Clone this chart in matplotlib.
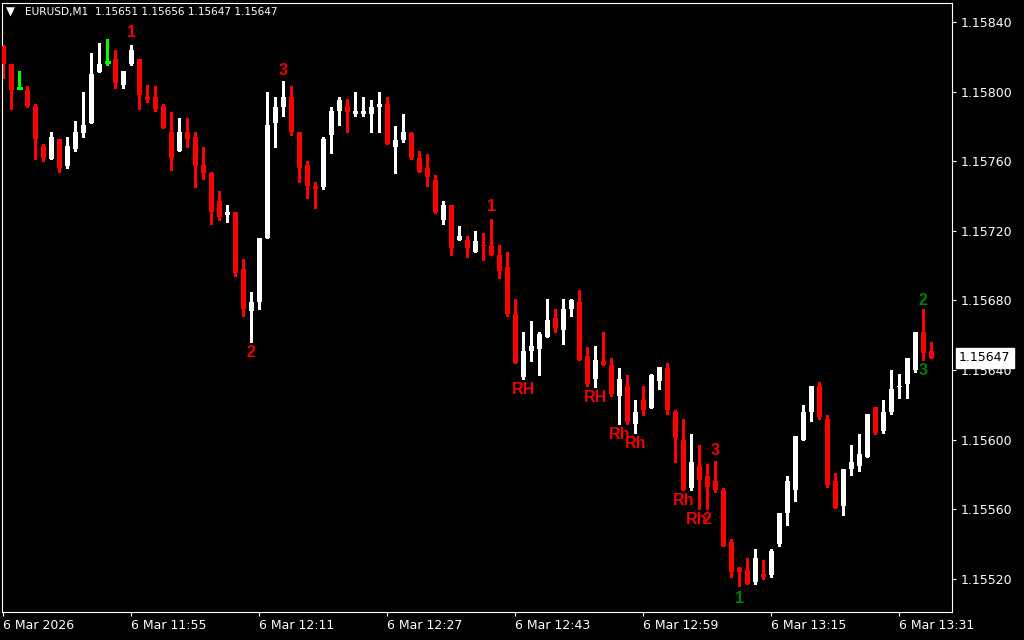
import matplotlib
matplotlib.use("Agg")
import matplotlib.pyplot as plt
import matplotlib.transforms as mtransforms
import numpy as np


BULL = "#FFFFFF"
BEAR = "#FF0000"
DOJI = "#00FF00"
SIG_RED = "#F00000"
SIG_GREEN = "#008000"

# EURUSD M1 candles, 6 Mar 2026 11:39 .. 13:35
opens = [
    1.15826, 1.15816, 1.15802, 1.15801, 1.15792, 1.15769, 1.15761, 1.15773, 1.15757, 1.15767,
    1.15776, 1.15782, 1.15811, 1.15817, 1.15819, 1.15804, 1.15816, 1.15819, 1.15797, 1.15797,
    1.15792, 1.15777, 1.15766, 1.15777, 1.15774, 1.15758, 1.15753, 1.15737, 1.15729, 1.15731,
    1.15698, 1.15674, 1.15679, 1.15716, 1.15782, 1.15791, 1.15797, 1.15777, 1.15758, 1.15746,
    1.15745, 1.15775, 1.15789, 1.15792, 1.15787, 1.15787, 1.15787, 1.15791, 1.15793, 1.15768,
    1.15772, 1.15776, 1.15762, 1.15756, 1.15749, 1.15726, 1.15735, 1.15715, 1.15715, 1.15708,
    1.15712, 1.15711, 1.15706, 1.15699, 1.15672, 1.15636, 1.15651, 1.15652, 1.15659, 1.15670,
    1.15663, 1.15675, 1.15679, 1.15648, 1.15635, 1.15645, 1.15643, 1.15625, 1.15631, 1.15609,
    1.15623, 1.15618, 1.15634, 1.15641, 1.15616, 1.15600, 1.15572, 1.15585, 1.15579, 1.15576,
    1.15571, 1.15541, 1.15526, 1.15525, 1.15518, 1.15523, 1.15522, 1.15540, 1.15558, 1.15571,
    1.15600, 1.15616, 1.15631, 1.15612, 1.15576, 1.15562, 1.15583, 1.15585, 1.15590, 1.15619,
    1.15605, 1.15616, 1.15630, 1.15632, 1.15640, 1.15662, 1.15651,
]
highs = [
    1.15827, 1.15816, 1.15812, 1.15803, 1.15793, 1.15770, 1.15777, 1.15773, 1.15774, 1.15783,
    1.15800, 1.15822, 1.15828, 1.15830, 1.15824, 1.15812, 1.15827, 1.15819, 1.15804, 1.15803,
    1.15793, 1.15788, 1.15785, 1.15785, 1.15777, 1.15768, 1.15754, 1.15743, 1.15735, 1.15731,
    1.15704, 1.15685, 1.15716, 1.15800, 1.15797, 1.15806, 1.15803, 1.15777, 1.15760, 1.15748,
    1.15774, 1.15791, 1.15797, 1.15796, 1.15800, 1.15797, 1.15795, 1.15800, 1.15797, 1.15780,
    1.15787, 1.15777, 1.15766, 1.15764, 1.15752, 1.15737, 1.15735, 1.15723, 1.15717, 1.15720,
    1.15719, 1.15727, 1.15712, 1.15708, 1.15681, 1.15662, 1.15668, 1.15662, 1.15681, 1.15675,
    1.15681, 1.15681, 1.15686, 1.15653, 1.15654, 1.15662, 1.15647, 1.15641, 1.15637, 1.15623,
    1.15631, 1.15638, 1.15642, 1.15644, 1.15617, 1.15612, 1.15603, 1.15597, 1.15586, 1.15588,
    1.15572, 1.15543, 1.15527, 1.15532, 1.15537, 1.15531, 1.15537, 1.15558, 1.15579, 1.15602,
    1.15620, 1.15631, 1.15633, 1.15614, 1.15581, 1.15583, 1.15597, 1.15603, 1.15615, 1.15619,
    1.15623, 1.15640, 1.15638, 1.15647, 1.15662, 1.15675, 1.15656,
]
lows = [
    1.15808, 1.15790, 1.15802, 1.15791, 1.15761, 1.15760, 1.15761, 1.15754, 1.15756, 1.15766,
    1.15774, 1.15782, 1.15811, 1.15815, 1.15802, 1.15802, 1.15815, 1.15790, 1.15794, 1.15789,
    1.15779, 1.15755, 1.15766, 1.15768, 1.15745, 1.15750, 1.15724, 1.15726, 1.15725, 1.15694,
    1.15671, 1.15656, 1.15675, 1.15716, 1.15768, 1.15786, 1.15775, 1.15748, 1.15739, 1.15733,
    1.15744, 1.15765, 1.15781, 1.15777, 1.15786, 1.15786, 1.15777, 1.15777, 1.15770, 1.15753,
    1.15771, 1.15761, 1.15754, 1.15746, 1.15730, 1.15724, 1.15706, 1.15715, 1.15705, 1.15708,
    1.15703, 1.15706, 1.15693, 1.15671, 1.15644, 1.15635, 1.15645, 1.15637, 1.15659, 1.15662,
    1.15655, 1.15671, 1.15646, 1.15631, 1.15630, 1.15643, 1.15625, 1.15609, 1.15609, 1.15604,
    1.15614, 1.15618, 1.15629, 1.15615, 1.15587, 1.15571, 1.15571, 1.15560, 1.15560, 1.15570,
    1.15539, 1.15521, 1.15516, 1.15517, 1.15517, 1.15520, 1.15521, 1.15539, 1.15551, 1.15565,
    1.15600, 1.15611, 1.15612, 1.15573, 1.15561, 1.15557, 1.15580, 1.15582, 1.15590, 1.15603,
    1.15604, 1.15615, 1.15624, 1.15624, 1.15639, 1.15646, 1.15647,
]
closes = [
    1.15816, 1.15801, 1.15802, 1.15792, 1.15773, 1.15762, 1.15774, 1.15756, 1.15769, 1.15777,
    1.15781, 1.15810, 1.15816, 1.15817, 1.15805, 1.15812, 1.15824, 1.15798, 1.15795, 1.15790,
    1.15779, 1.15762, 1.15777, 1.15773, 1.15757, 1.15753, 1.15731, 1.15728, 1.15731, 1.15696,
    1.15675, 1.15679, 1.15716, 1.15781, 1.15791, 1.15797, 1.15777, 1.15756, 1.15746, 1.15744,
    1.15773, 1.15789, 1.15795, 1.15788, 1.15789, 1.15789, 1.15791, 1.15793, 1.15770, 1.15772,
    1.15777, 1.15762, 1.15754, 1.15751, 1.15731, 1.15735, 1.15710, 1.15717, 1.15710, 1.15714,
    1.15711, 1.15706, 1.15697, 1.15672, 1.15644, 1.15651, 1.15654, 1.15661, 1.15669, 1.15664,
    1.15675, 1.15680, 1.15646, 1.15632, 1.15646, 1.15643, 1.15626, 1.15635, 1.15610, 1.15616,
    1.15617, 1.15637, 1.15642, 1.15617, 1.15601, 1.15571, 1.15587, 1.15577, 1.15573, 1.15571,
    1.15539, 1.15524, 1.15524, 1.15517, 1.15532, 1.15521, 1.15536, 1.15558, 1.15576, 1.15602,
    1.15616, 1.15631, 1.15613, 1.15574, 1.15561, 1.15583, 1.15587, 1.15592, 1.15615, 1.15604,
    1.15616, 1.15629, 1.15631, 1.15647, 1.15662, 1.15650, 1.15647,
]

# time axis labels (one every 16 bars)
time_tick_bars = [0, 16, 32, 48, 64, 80, 96, 112]
time_tick_labels = [
    "6 Mar 2026", "6 Mar 11:55", "6 Mar 12:11", "6 Mar 12:27",
    "6 Mar 12:43", "6 Mar 12:59", "6 Mar 13:15", "6 Mar 13:31",
]
price_ticks = [1.15520, 1.15560, 1.15600, 1.15640, 1.15680, 1.15720, 1.15760, 1.15800, 1.15840]

# indicator labels: text, bar index, price, colour
signal_texts = ["1", "3", "2", "1", "RH", "RH", "Rh", "Rh", "3", "Rh", "Rh", "2", "1", "2", "3"]
signal_bars = [16, 35, 31, 61, 65, 74, 77, 79, 89, 85, 86.7, 88, 92, 115, 115]
signal_prices = [
    1.15834, 1.15812, 1.15650, 1.15734, 1.15629, 1.15624, 1.15603, 1.15598,
    1.15594, 1.15565, 1.15554, 1.15554, 1.15509, 1.15680, 1.15640,
]
signal_colors = [SIG_RED] * 12 + [SIG_GREEN] * 3

last_price = 1.15647
header = "EURUSD,M1  1.15651 1.15656 1.15647 1.15647"


def main() -> None:
    W, H = 1024, 640
    fig = plt.figure(figsize=(W / 100, H / 100), dpi=100, facecolor="black")
    ax = fig.add_axes([2 / W, 28 / H, 950 / W, 609 / H], facecolor="black")

    o = np.array(opens)
    h = np.array(highs)
    l = np.array(lows)
    c = np.array(closes)
    x = np.arange(len(o))

    colors = np.where(c > o, BULL, np.where(c < o, BEAR, DOJI))

    ax.vlines(x, l, h, colors=colors, linewidth=0.75, antialiased=False, zorder=2)

    body = np.abs(c - o)
    has_body = body > 0
    ax.bar(
        x[has_body],
        body[has_body],
        bottom=np.minimum(o, c)[has_body],
        width=0.62,
        color=colors[has_body],
        linewidth=0,
        antialiased=False,
        zorder=3,
    )
    doji = ~has_body
    ax.hlines(o[doji], x[doji] - 0.31, x[doji] + 0.31, colors=DOJI, linewidth=0.75,
              antialiased=False, zorder=3)

    for txt, bx, py, col in zip(signal_texts, signal_bars, signal_prices, signal_colors):
        ax.text(bx, py, txt, color=col, fontsize=11.5, fontweight="bold",
                family="Liberation Sans", ha="center", va="center", zorder=4)

    ax.set_xlim(-0.16, 118.59)
    ax.set_ylim(1.155010, 1.158509)

    for sp in ax.spines.values():
        sp.set_color("white")
        sp.set_linewidth(0.8)

    ax.yaxis.tick_right()
    ax.set_yticks(price_ticks)
    ax.set_yticklabels([f"{p:.5f}" for p in price_ticks])
    ax.tick_params(axis="y", colors="white", labelcolor="white", labelsize=9,
                   length=3, width=0.8, pad=3, direction="out")

    ax.set_xticks(time_tick_bars)
    ax.set_xticklabels(time_tick_labels, ha="left")
    ax.tick_params(axis="x", colors="white", labelcolor="white", labelsize=9,
                   length=3, width=0.8, pad=2, direction="out")

    trans = mtransforms.blended_transform_factory(ax.transAxes, ax.transData)
    ax.text(1.0 + 7 / 950, last_price, f"{last_price:.5f}", transform=trans,
            color="black", fontsize=9, ha="left", va="center", zorder=6, clip_on=False,
            bbox=dict(boxstyle="square,pad=0.25", fc="white", ec="white"))

    fig.text(6 / W, 1 - 12 / H, "\u25bc", color="white", fontsize=8.5, ha="left", va="center")
    fig.text(25 / W, 1 - 12 / H, header, color="white", fontsize=7.6, ha="left", va="center")

    fig.savefig("out.png", dpi=100, facecolor="black")
    plt.close(fig)


if __name__ == "__main__":
    main()
